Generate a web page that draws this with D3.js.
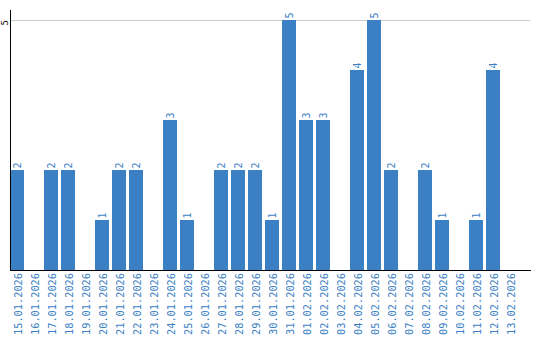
<!DOCTYPE html>
<meta charset="utf-8">
<html>
  <head>
    <title>daily counts</title>
    <script src="https://d3js.org/d3.v7.min.js"></script>
    <style>
      body { margin: 0; background: #fff; }
    </style>
  </head>
  <body>
    <div id="chart"></div>
    <script type="text/javascript">
        /* data */
        var dates = ["15.01.2026", "16.01.2026", "17.01.2026", "18.01.2026", "19.01.2026",
                     "20.01.2026", "21.01.2026", "22.01.2026", "23.01.2026", "24.01.2026",
                     "25.01.2026", "26.01.2026", "27.01.2026", "28.01.2026", "29.01.2026",
                     "30.01.2026", "31.01.2026", "01.02.2026", "02.02.2026", "03.02.2026",
                     "04.02.2026", "05.02.2026", "06.02.2026", "07.02.2026", "08.02.2026",
                     "09.02.2026", "10.02.2026", "11.02.2026", "12.02.2026", "13.02.2026"];
        var counts = [2, 0, 2, 2, 0, 1, 2, 2, 0, 3, 1, 0, 2, 2, 2, 1, 5, 3, 3, 0, 4, 5, 2, 0, 2, 1, 0, 1, 4, 0];
        var y_ticks = [5];

        /* layout */
        var total_width = 540, total_height = 340,
            left = 10, top_y = 20, base_y = 270,
            bar_color = "#3b7fc4",
            font = "'DejaVu Sans Mono', monospace";

        var svg = d3.select("#chart").append("svg")
            .attr("width", total_width)
            .attr("height", total_height);

        var x = d3.scaleBand()
            .domain(dates)
            .range([left, 517])
            .paddingInner(3 / 17)
            .paddingOuter(0);

        var y = d3.scaleLinear()
            .domain([0, 5])
            .range([base_y, top_y]);

        /* gridline */
        svg.append("g").selectAll("line")
            .data(y_ticks)
            .enter().append("line")
            .attr("x1", left).attr("x2", 530)
            .attr("y1", function(d){ return y(d) + 0.5; })
            .attr("y2", function(d){ return y(d) + 0.5; })
            .attr("stroke", "#cccccc")
            .attr("stroke-width", 1);

        /* y tick labels */
        svg.append("g").selectAll("text")
            .data(y_ticks)
            .enter().append("text")
            .attr("transform", function(d){ return "translate(7.5," + y(d) + ") rotate(-90)"; })
            .attr("text-anchor", "end")
            .attr("font-family", font)
            .attr("font-size", 9)
            .attr("fill", "#000")
            .text(function(d){ return d; });

        /* bars */
        svg.append("g").selectAll("rect")
            .data(counts)
            .enter().append("rect")
            .attr("x", function(d, i){ return x(dates[i]); })
            .attr("y", function(d){ return y(d); })
            .attr("width", x.bandwidth())
            .attr("height", function(d){ return base_y - y(d); })
            .attr("fill", bar_color);

        /* value labels, skip empty days */
        svg.append("g").selectAll("text")
            .data(counts.map(function(d, i){ return {date: dates[i], value: d}; })
                        .filter(function(d){ return d.value > 0; }))
            .enter().append("text")
            .attr("transform", function(d){
                return "translate(" + (x(d.date) + x.bandwidth() / 2 + 4) + "," + (y(d.value) - 1.5) + ") rotate(-90)"; })
            .attr("text-anchor", "start")
            .attr("font-family", font)
            .attr("font-size", 10)
            .attr("fill", bar_color)
            .text(function(d){ return d.value; });

        /* axis lines */
        svg.append("line")
            .attr("x1", left + 0.5).attr("x2", left + 0.5)
            .attr("y1", 10).attr("y2", base_y + 1)
            .attr("stroke", "#000");
        svg.append("line")
            .attr("x1", left).attr("x2", 531)
            .attr("y1", base_y + 0.5).attr("y2", base_y + 0.5)
            .attr("stroke", "#000");

        /* x tick labels */
        svg.append("g").selectAll("text")
            .data(dates)
            .enter().append("text")
            .attr("transform", function(d){
                return "translate(" + (x(d) + x.bandwidth() / 2 + 5) + "," + 273 + ") rotate(-90)"; })
            .attr("text-anchor", "end")
            .attr("font-family", font)
            .attr("font-size", 10.3)
            .attr("fill", bar_color)
            .text(function(d){ return d; });
    </script>
  </body>
</html>
